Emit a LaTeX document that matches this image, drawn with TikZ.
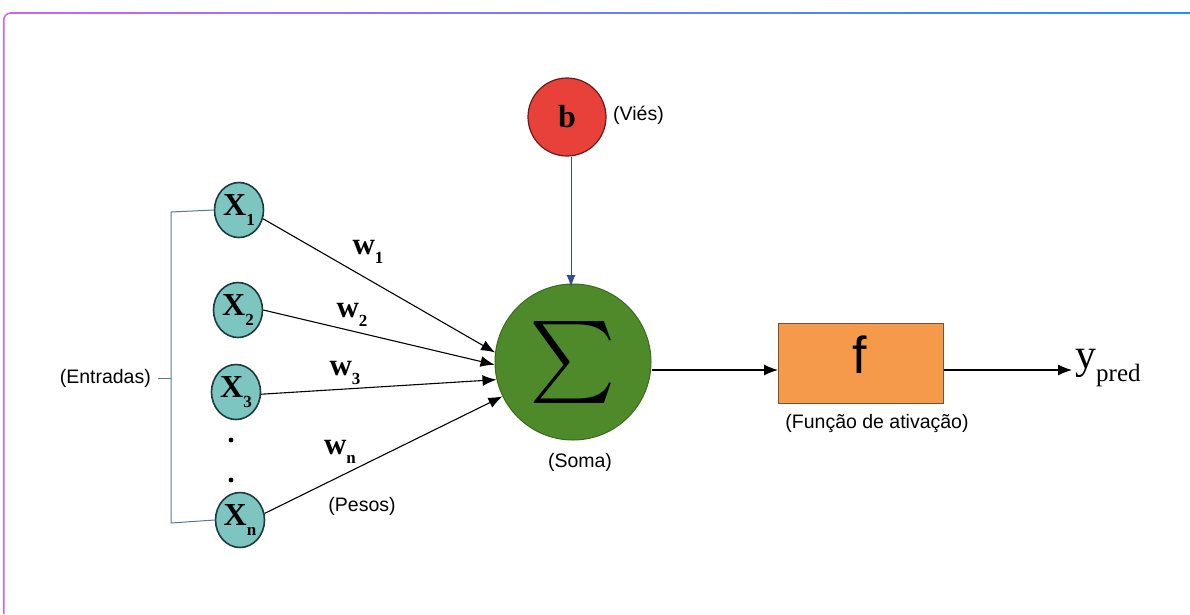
\documentclass[tikz,border=0pt]{standalone}
\usepackage{fontspec}
\setmainfont{Liberation Serif}
\setsansfont{Liberation Sans}
\usetikzlibrary{shapes.geometric,arrows.meta}
\definecolor{teal}{HTML}{7CC5C0}
\definecolor{tealedge}{HTML}{1E3B3B}
\definecolor{sgreen}{HTML}{4E8A2A}
\definecolor{sgreenedge}{HTML}{3A6A1E}
\definecolor{bred}{HTML}{E8413A}
\definecolor{brededge}{HTML}{6A1A18}
\definecolor{forange}{HTML}{F59A4A}
\definecolor{forangeedge}{HTML}{7A5030}
\definecolor{barrow}{HTML}{2E4E8C}
\definecolor{bracket}{HTML}{5A7894}
\definecolor{fpurple}{HTML}{C266FF}
\definecolor{fblue}{HTML}{1E90FF}
\tikzset{
  xin/.style={ellipse,draw=tealedge,line width=1.6pt,fill=teal,minimum width=49pt,minimum height=55pt,inner sep=0pt,font=\fontsize{32}{32}\selectfont\bfseries},
  lbl/.style={font=\sffamily\fontsize{19.5}{22}\selectfont,inner sep=0pt},
  wlbl/.style={font=\fontsize{31}{31}\selectfont\bfseries,inner sep=0pt},
  arr/.style={line width=1.1pt,-{Latex[length=14pt,width=11pt]}},
  brk/.style={draw=bracket,line width=1pt},
}
\newcommand{\lsub}[2]{#1\raisebox{-0.3em}{\fontsize{17}{17}\selectfont #2}}
\begin{document}
\begin{tikzpicture}[x=1pt,y=-1pt]
\useasboundingbox (0,0) rectangle (1190,614);
% frame
\shade[left color=fpurple,right color=fblue] (10,12.3) rectangle (1190,13.8);
\draw[fpurple,line width=1.5pt] (3.75,614) -- (3.75,20) arc[start angle=180,end angle=270,radius=7];
% inputs
\node[xin] (x1) at (239,210) {\lsub{X}{1}};
\node[xin] (x2) at (238,310) {\lsub{X}{2}};
\node[xin] (x3) at (236,392) {\lsub{X}{3}};
\node[xin] (xn) at (240,520) {\lsub{X}{n}};
\node[circle,fill=black,inner sep=1.7pt] (d1) at (231,440) {};
\node[circle,fill=black,inner sep=1.7pt] (d2) at (231,480) {};
% bracket
\coordinate (bt) at (171,212);
\coordinate (bb) at (171,523);
\coordinate (bm) at (171,378);
\draw[brk] (x1.west) -- (bt) -- (bb) -- (xn.west);
\node[lbl,anchor=east] (entr) at (151,378) {(Entradas)};
\draw[brk] (entr.east) ++(7,0) -- (bm);
% sum
\node[circle,draw=sgreenedge,line width=1pt,fill=sgreen,minimum size=156pt,inner sep=0pt] (sig) at (573,362) {\resizebox*{!}{82pt}{$\sum$}};
\node[lbl] (soma) at (580,462) {(Soma)};
% bias
\node[circle,draw=brededge,line width=1.2pt,fill=bred,minimum size=78pt,inner sep=0pt,font=\fontsize{32}{32}\selectfont\bfseries] (b) at (567,117) {b};
\node[lbl,anchor=west] (vies) at (613,115) {(Viés)};
\draw[barrow,line width=1pt,-{Latex[length=12pt,width=9pt]}] (b.south) ++(4,0) -- (571,287);
% weighted connections
\draw[arr] (x1.-20) -- (sig.173);
\draw[arr] (x2.east) -- (sig.182);
\draw[arr] (x3.-5) -- (sig.193);
\draw[arr] (xn.15) -- (sig.206);
\node[wlbl] (w1) at (368,252) {\lsub{w}{1}};
\node[wlbl] (w2) at (352,315) {\lsub{w}{2}};
\node[wlbl] (w3) at (345,373) {\lsub{w}{3}};
\node[wlbl] (wn) at (340,452) {\lsub{w}{n}};
\node[lbl] (pesos) at (362,506) {(Pesos)};
% activation
\node[draw=forangeedge,line width=1pt,fill=forange,minimum width=165pt,minimum height=80pt,inner sep=0pt,anchor=north west] (f) at (778,323) {};
\node[font=\sffamily\fontsize{52}{52}\selectfont,inner sep=0pt] (ft) at (860,355) {f};
\node[lbl] (fun) at (877,423) {(Função de ativação)};
\draw[arr] (sig.east |- 0,370) -- (f.west |- 0,370);
\coordinate (yend) at (1072,370);
\draw[arr] (f.east |- 0,370) -- (yend);
\node[anchor=west,inner sep=0pt,font=\fontsize{42}{42}\selectfont] (y) at (1075,368) {y\raisebox{-0.32em}{\fontsize{25}{25}\selectfont pred}};
\end{tikzpicture}
\end{document}
